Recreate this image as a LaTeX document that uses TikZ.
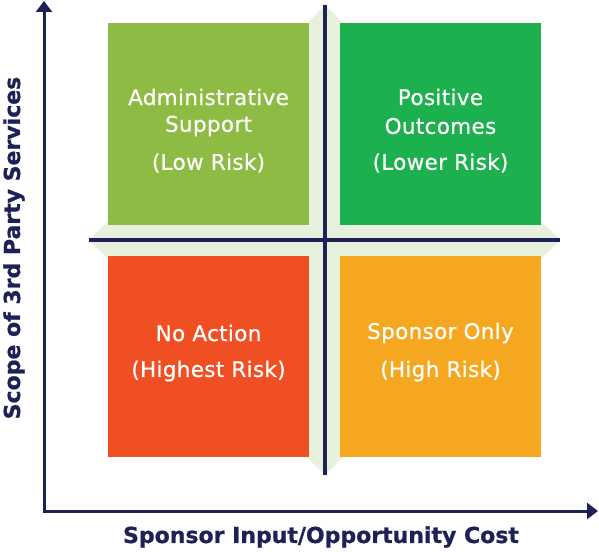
\documentclass[tikz,border=0pt]{standalone}
\usepackage{fontspec}
\setmainfont{DejaVu Sans}
\newfontfamily\qfont[LetterSpace=1.5,FakeBold=0.6]{DejaVu Sans}
\newfontfamily\afont[FakeBold=0.8]{DejaVu Sans Bold}
\usetikzlibrary{arrows.meta}
\definecolor{navy}{RGB}{30,33,86}
\definecolor{band}{RGB}{232,240,222}
\definecolor{qtl}{RGB}{141,187,67}
\definecolor{qtr}{RGB}{29,176,78}
\definecolor{qbl}{RGB}{240,78,35}
\definecolor{qbr}{RGB}{245,167,32}
\tikzset{
  quad/.style={inner sep=0pt, outer sep=0pt, minimum width=201pt, minimum height=202pt, anchor=north west},
  qtext/.style={text=white, font=\qfont\fontsize{21.5}{25}\selectfont, inner sep=0pt, anchor=center},
  axlabel/.style={text=navy, font=\afont\fontsize{22}{26}\selectfont, inner sep=0pt},
  axisline/.style={draw=navy, line width=3pt, {Triangle[length=11pt,width=16pt]}-{Triangle[length=11pt,width=16pt]}},
  divline/.style={draw=navy, line width=4.5pt}
}
\begin{document}
\begin{tikzpicture}[x=1pt,y=-1pt]
\useasboundingbox (0,0) rectangle (599,551);
% bands
\fill[band] (325,5) -- (343,23) -- (343,457) -- (325,475) -- (307,457) -- (307,23) -- cycle;
\fill[band] (89,240) -- (107,222) -- (542,222) -- (560,240) -- (542,258) -- (107,258) -- cycle;
\coordinate (vt) at (325,5);
\coordinate (vb) at (325,475);
\coordinate (hl) at (89,240);
\coordinate (hr) at (560,240);
\draw[divline] (vt) -- (vb);
\draw[divline] (hl) -- (hr);
% quadrants
\node[quad, fill=qtl] (tl) at (108,23) {};
\node[quad, fill=qtr] (tr) at (340,23) {};
\node[quad, fill=qbl, minimum height=201pt] (bl) at (108,256) {};
\node[quad, fill=qbr, minimum height=201pt] (br) at (340,256) {};
% texts
\node[qtext] (tl1) at (208.5,97) {Administrative};
\node[qtext] (tl2) at (208.5,126) {Support};
\node[qtext] (tl3) at (208.5,163) {(Low Risk)};
\node[qtext] (tr1) at (440.5,97) {Positive};
\node[qtext] (tr2) at (440.5,126) {Outcomes};
\node[qtext] (tr3) at (440.5,163) {(Lower Risk)};
\node[qtext] (bl1) at (208.5,333) {No Action};
\node[qtext] (bl2) at (208.5,371) {(Highest Risk)};
\node[qtext] (br1) at (440.5,333) {Sponsor Only};
\node[qtext] (br2) at (440.5,371) {(High Risk)};
% axes
\coordinate (ytop) at (44,1);
\coordinate (origin) at (44,511);
\coordinate (xend) at (598,511);
\draw[axisline] (ytop) -- (origin) -- (xend);
\node[axlabel] (xlab) at (321,537) {Sponsor Input/Opportunity Cost};
\node[axlabel, rotate=90] (ylab) at (14,248) {Scope of 3rd Party Services};
\end{tikzpicture}
\end{document}
